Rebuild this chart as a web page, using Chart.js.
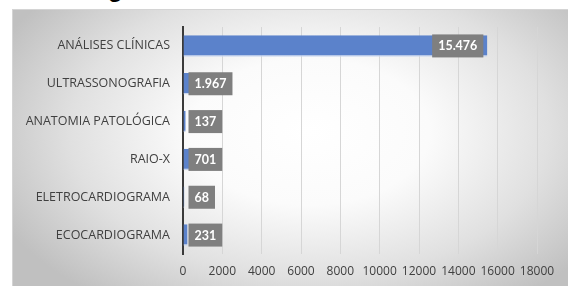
<!DOCTYPE html>
<html>
<head>
<meta charset="utf-8">
<script src="https://cdn.jsdelivr.net/npm/chart.js@4"></script>
<style>
    html, body { margin: 0; padding: 0; background: #fff; overflow: hidden; }
    #wrap { position: relative; width: 568px; height: 286px; }
    #frame {
        position: absolute; left: 12px; top: 9px; width: 570px; height: 290px;
        border-top: 1px solid #d4d4d4; border-left: 1px solid #d4d4d4;
        background: radial-gradient(ellipse 60% 72% at 52% 42%, #ffffff 0%, #fbfbfb 35%, #e0e0e0 70%, #c0c0c0 100%);
    }
    #title {
        position: absolute; left: 108px; top: -25px;
        font: bold 24px "Liberation Sans", Arial, sans-serif; color: #000;
    }
    canvas { position: absolute; left: 0; top: 0; }
</style>
</head>
<body>
<div id="wrap">
    <div id="title">g</div>
    <div id="frame"></div>
    <canvas id="examChart" width="568" height="286"></canvas>
</div>
<script>
// dados do gráfico
const categorias = ['ANÁLISES CLÍNICAS', 'ULTRASSONOGRAFIA', 'ANATOMIA PATOLÓGICA', 'RAIO-X', 'ELETROCARDIOGRAMA', 'ECOCARDIOGRAMA'];
const quantidades = [15476, 1967, 137, 701, 68, 231];
const rotulos = ['15.476', '1.967', '137', '701', '68', '231'];
const eixoMin = 0;
const eixoMax = 18000;
const eixoPasso = 2000;

// caixas cinzas com o valor em branco
const rotuloPlugin = {
    id: 'rotuloPlugin',
    afterDatasetsDraw(chart) {
        const ctx = chart.ctx;
        const meta = chart.getDatasetMeta(0);
        ctx.save();
        ctx.font = 'bold 12.5px Lato, "Open Sans", sans-serif';
        ctx.textBaseline = 'middle';
        meta.data.forEach((bar, i) => {
            const txt = rotulos[i];
            const w = ctx.measureText(txt).width + 12;
            const h = 23;
            const base = bar.base;
            let x;
            if (bar.x - base > w + 8) {
                x = bar.x - 4 - w;
            } else {
                x = base + 5;
            }
            const y = bar.y - h / 2;
            ctx.fillStyle = '#7f7f7f';
            ctx.fillRect(x, y, w, h);
            ctx.fillStyle = '#ffffff';
            ctx.textAlign = 'center';
            ctx.fillText(txt, x + w / 2, bar.y + 0.5);
        });
        ctx.restore();
    }
};

const ctx = document.getElementById('examChart').getContext('2d');
new Chart(ctx, {
    type: 'bar',
    data: {
        labels: categorias,
        datasets: [{
            data: quantidades,
            backgroundColor: '#5b82cb',
            borderColor: '#c9d6ef',
            borderWidth: { bottom: 1.5, top: 0, left: 0, right: 0 },
            borderSkipped: false,
            categoryPercentage: 1,
            barPercentage: 0.57,
        }],
    },
    options: {
        indexAxis: 'y',
        responsive: false,
        animation: false,
        layout: { padding: { left: 0, top: 27, right: 31, bottom: 0 } },
        plugins: {
            legend: { display: false },
            tooltip: { enabled: false },
        },
        scales: {
            x: {
                min: eixoMin,
                max: eixoMax,
                ticks: {
                    stepSize: eixoPasso,
                    padding: 10,
                    color: '#404040',
                    font: { family: '"Open Sans", sans-serif', size: 12 },
                    callback: v => String(v),
                    maxRotation: 0,
                    autoSkip: false,
                },
                grid: { color: '#d6d6d6', lineWidth: 1, drawTicks: false },
                border: { display: false },
                afterFit: s => { s.height = 32; },
            },
            y: {
                ticks: {
                    padding: 13,
                    color: '#404040',
                    font: { family: '"Open Sans", sans-serif', size: 12.5 },
                },
                grid: { display: false, drawTicks: false },
                border: { display: true, color: '#3a3a3a', width: 2 },
                afterFit: s => { s.width = 183; },
            },
        },
    },
    plugins: [rotuloPlugin],
});
</script>
</body>
</html>
